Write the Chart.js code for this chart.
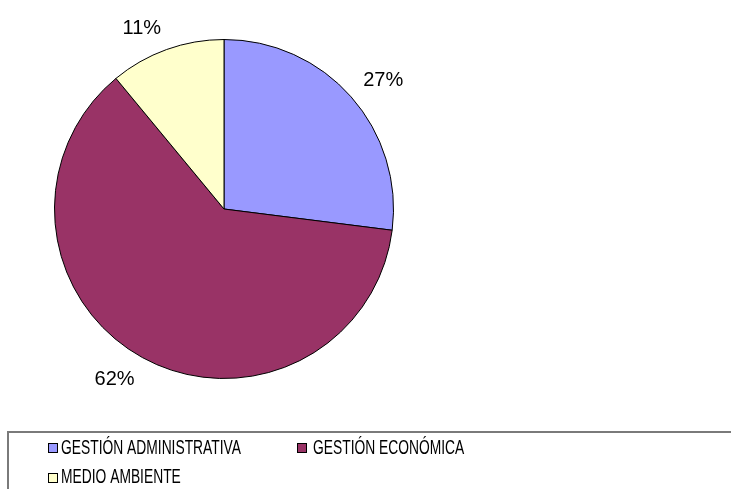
<!DOCTYPE html>
<html>
<head>
<meta charset="utf-8">
<script src="https://cdn.jsdelivr.net/npm/chart.js@4"></script>
<style>
  body { margin: 0; background: #fff; }
  canvas { display: block; }
</style>
</head>
<body>
<canvas id="grafico" width="731" height="489"></canvas>
<script>
// datos del gráfico
const categorias = ['GESTIÓN ADMINISTRATIVA', 'GESTIÓN ECONÓMICA', 'MEDIO AMBIENTE'];
const valores = [27, 62, 11];
const colores = ['#9999FF', '#993366', '#FFFFCC'];

const fuenteEtiqueta = '20px "Liberation Sans", Arial, sans-serif';
const fuenteLeyenda = '20px "Liberation Sans", Arial, sans-serif';

// etiquetas de porcentaje fuera de cada sector
const etiquetasPlugin = {
    id: 'etiquetas',
    afterDatasetsDraw(chart) {
        const ctx = chart.ctx;
        const meta = chart.getDatasetMeta(0);
        const total = valores.reduce((a, b) => a + b, 0);
        ctx.save();
        ctx.font = fuenteEtiqueta;
        ctx.fillStyle = '#000';
        ctx.textAlign = 'center';
        ctx.textBaseline = 'middle';
        meta.data.forEach((arc, i) => {
            const mid = (arc.startAngle + arc.endAngle) / 2;
            const r = arc.outerRadius * 1.095;
            const ax = arc.x + Math.cos(mid) * r;
            const ay = arc.y + Math.sin(mid) * r;
            const pct = Math.round(valores[i] / total * 100) + '%';
            const w = ctx.measureText(pct).width;
            const h = 14;
            // la esquina más cercana al círculo queda sobre el punto de anclaje
            const x = ax + (Math.cos(mid) > 0 ? w / 2 : -w / 2);
            const y = ay + (Math.sin(mid) > 0 ? h / 2 : -h / 2);
            ctx.fillText(pct, x, y + 1);
        });
        ctx.restore();
    }
};

// leyenda dibujada a mano (cuadro abajo, texto estrecho)
const leyendaPlugin = {
    id: 'leyenda',
    afterDraw(chart) {
        const ctx = chart.ctx;
        ctx.save();
        ctx.strokeStyle = '#7a7a7a';
        ctx.lineWidth = 2;
        ctx.strokeRect(8, 432, 760, 100);

        ctx.font = fuenteLeyenda;
        ctx.textBaseline = 'alphabetic';
        const anchos = [180, 158, 0];
        const escala = anchos[0] / ctx.measureText(categorias[0]).width;
        const items = [
            { mx: 48, my: 443, tx: 61, ty: 454 },
            { mx: 297, my: 443, tx: 313, ty: 454 },
            { mx: 48, my: 473, tx: 61, ty: 483 }
        ];
        items.forEach((it, i) => {
            ctx.fillStyle = colores[i];
            ctx.fillRect(it.mx, it.my, 10, 10);
            ctx.strokeStyle = '#000';
            ctx.lineWidth = 1;
            ctx.strokeRect(it.mx + 0.5, it.my + 0.5, 9, 9);
            ctx.fillStyle = '#000';
            ctx.save();
            ctx.translate(it.tx, it.ty);
            ctx.scale(escala, 1);
            ctx.fillText(categorias[i], 0, 0);
            ctx.restore();
        });
        ctx.restore();
    }
};

const ctx = document.getElementById('grafico').getContext('2d');
new Chart(ctx, {
    type: 'pie',
    data: {
        labels: categorias,
        datasets: [{
            data: valores,
            backgroundColor: colores,
            borderColor: '#000',
            borderWidth: 1
        }]
    },
    options: {
        responsive: false,
        animation: false,
        layout: {
            padding: { left: 54, top: 39, right: 337, bottom: 110 }
        },
        plugins: {
            legend: { display: false },
            tooltip: { enabled: false }
        }
    },
    plugins: [etiquetasPlugin, leyendaPlugin]
});
</script>
</body>
</html>
